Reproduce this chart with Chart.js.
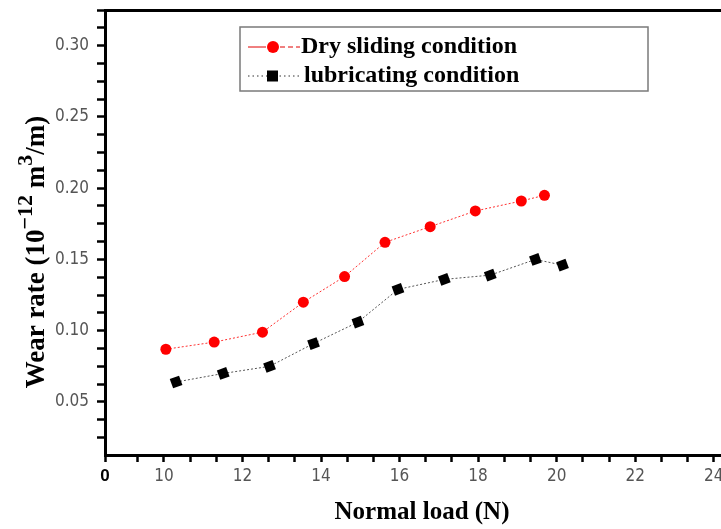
<!DOCTYPE html>
<html>
<head>
<meta charset="utf-8">
<script src="https://cdn.jsdelivr.net/npm/chart.js@4/dist/chart.umd.min.js"></script>
<style>
  html, body { margin: 0; padding: 0; background: #fff; overflow: hidden; }
  #wrap { width: 760px; height: 529px; }
</style>
</head>
<body>
<div id="wrap"><canvas id="wearChart" width="760" height="529"></canvas></div>
<script>
// values
const loadDry = [10.05, 11.28, 12.51, 13.55, 14.60, 15.63, 16.78, 17.93, 19.10, 19.69];
const wearDry = [0.087, 0.092, 0.099, 0.120, 0.138, 0.162, 0.173, 0.184, 0.191, 0.195];

const loadLub = [10.31, 11.51, 12.69, 13.81, 14.94, 15.96, 17.14, 18.31, 19.46, 20.15];
const wearLub = [0.064, 0.070, 0.075, 0.091, 0.106, 0.129, 0.136, 0.139, 0.150, 0.146];

const seriesNames = ["Dry sliding condition", "lubricating condition"];

const xLabels = [10, 12, 14, 16, 18, 20, 22, 24];
const yLabels = [0.05, 0.10, 0.15, 0.20, 0.25, 0.30];

const X_MIN = 8.5;
const X_MAX = 25.0;
const Y_MIN = 0.0128;
const Y_MAX = 0.325;

const TICK_FONT = "'Liberation Sans Narrow', 'DejaVu Sans Condensed', sans-serif";
const SERIF = "'Liberation Serif', 'DejaVu Serif', serif";


function toPoints(xs, ys) {
  return xs.map((x, i) => ({ x: x, y: ys[i] }));
}


function xTickValues() {
  const out = [X_MIN];
  for (let k = 0; ; k++) {
    const v = 28 / 3 + k * 2 / 3;
    if (v > X_MAX - 0.3) break;
    out.push(v);
  }
  return out.map((v) => ({ value: v }));
}


function yTickValues() {
  const out = [];
  for (let k = 2; k * 0.0125 <= Y_MAX; k++) {
    out.push({ value: k * 0.0125 });
  }
  return out;
}


function isNear(v, list) {
  return list.find((t) => Math.abs(t - v) < 1e-6);
}


// legend box drawn inside the plot, top centre
const legendBox = {
  id: "legendBox",
  afterDraw(chart) {
    const ctx = chart.ctx;
    ctx.save();

    ctx.strokeStyle = "#7a7a7a";
    ctx.lineWidth = 1.5;
    ctx.strokeRect(240, 27, 408, 64);

    const sets = chart.data.datasets;

    // dry sliding
    let y = 47;
    ctx.strokeStyle = "#e00000";
    ctx.lineWidth = 1;
    ctx.beginPath();
    ctx.moveTo(248, y);
    ctx.lineTo(266, y);
    ctx.stroke();
    ctx.setLineDash([5, 3]);
    ctx.beginPath();
    ctx.moveTo(280, y);
    ctx.lineTo(300, y);
    ctx.stroke();
    ctx.setLineDash([]);
    ctx.fillStyle = "#ff0000";
    ctx.beginPath();
    ctx.arc(273, y, 6, 0, Math.PI * 2);
    ctx.fill();

    ctx.fillStyle = "#000";
    ctx.font = "bold 24px " + SERIF;
    ctx.textBaseline = "middle";
    ctx.textAlign = "left";
    ctx.fillText(sets[0].label, 301, y);

    // lubricating
    y = 76;
    ctx.strokeStyle = "#333";
    ctx.setLineDash([1.5, 3]);
    ctx.beginPath();
    ctx.moveTo(248, y);
    ctx.lineTo(300, y);
    ctx.stroke();
    ctx.setLineDash([]);
    ctx.fillStyle = "#000";
    ctx.fillRect(267, y - 5.5, 11, 11);
    ctx.fillText(sets[1].label, 304, y);

    ctx.restore();
  }
};


// axis titles, y one with superscripts
const axisTitles = {
  id: "axisTitles",
  afterDraw(chart) {
    const ctx = chart.ctx;
    ctx.save();
    ctx.fillStyle = "#000";

    ctx.font = "bold 25px " + SERIF;
    ctx.textAlign = "center";
    ctx.textBaseline = "middle";
    ctx.fillText("Normal load (N)", 422, 513);

    const parts = [
      { t: "Wear rate (10", sup: false },
      { t: "\u221212", sup: true },
      { t: " m", sup: false },
      { t: "3", sup: true },
      { t: "/m)", sup: false },
    ];
    const mainFont = "bold 27px " + SERIF;
    const supFont = "bold 22px " + SERIF;

    let total = 0;
    parts.forEach((p) => {
      ctx.font = p.sup ? supFont : mainFont;
      p.w = ctx.measureText(p.t).width;
      total += p.w;
    });

    ctx.translate(44, 252);
    ctx.rotate(-Math.PI / 2);
    ctx.textAlign = "left";
    ctx.textBaseline = "alphabetic";
    let x = -total / 2;
    parts.forEach((p) => {
      ctx.font = p.sup ? supFont : mainFont;
      ctx.fillText(p.t, x, p.sup ? -12 : 0);
      x += p.w;
    });

    ctx.restore();
  }
};


new Chart(document.getElementById("wearChart"), {
  type: "line",
  data: {
    datasets: [
      {
        label: seriesNames[0],
        data: toPoints(loadDry, wearDry),
        borderColor: "#ff3030",
        borderWidth: 1,
        borderDash: [2, 2],
        pointStyle: "circle",
        pointRadius: 5.5,
        pointBackgroundColor: "#ff0000",
        pointBorderColor: "#ff0000",
        pointBorderWidth: 0,
        tension: 0
      },
      {
        label: seriesNames[1],
        data: toPoints(loadLub, wearLub),
        borderColor: "#555",
        borderWidth: 1,
        borderDash: [2, 2],
        pointStyle: "rect",
        pointRadius: 7,
        pointRotation: -20,
        pointBackgroundColor: "#000",
        pointBorderColor: "#000",
        pointBorderWidth: 0,
        tension: 0
      }
    ]
  },
  options: {
    responsive: false,
    animation: false,
    devicePixelRatio: 1,
    layout: { padding: { top: 10, left: 0, right: 0, bottom: 0 } },
    plugins: {
      legend: { display: false },
      tooltip: { enabled: false }
    },
    scales: {
      x: {
        type: "linear",
        position: "bottom",
        min: X_MIN,
        max: X_MAX,
        afterBuildTicks: (scale) => { scale.ticks = xTickValues(); },
        afterFit: (scale) => {
          scale.height = 74;
          scale.paddingLeft = 0;
          scale.paddingRight = 0;
        },
        grid: {
          drawOnChartArea: false,
          drawTicks: true,
          tickLength: 7,
          tickColor: "#000",
          tickWidth: 2.5
        },
        border: { display: true, color: "#000", width: 3 },
        ticks: {
          autoSkip: false,
          maxRotation: 0,
          padding: 4,
          callback: (v) => {
            if (Math.abs(v - X_MIN) < 1e-6) return "0";
            const hit = isNear(v, xLabels);
            return hit !== undefined ? String(hit) : "";
          },
          color: (c) => (c.tick && Math.abs(c.tick.value - X_MIN) < 1e-6 ? "#000" : "#555"),
          font: (c) => (c.tick && Math.abs(c.tick.value - X_MIN) < 1e-6
            ? { family: "'Liberation Sans', Arial, sans-serif", size: 17, weight: "bold" }
            : { family: TICK_FONT, size: 17 })
        }
      },
      xTop: {
        type: "linear",
        position: "top",
        min: X_MIN,
        max: X_MAX,
        afterFit: (scale) => {
          scale.height = 0;
          scale.paddingLeft = 0;
          scale.paddingRight = 0;
        },
        grid: { drawOnChartArea: false, drawTicks: false },
        border: { display: true, color: "#000", width: 3 },
        ticks: { display: false }
      },
      y: {
        type: "linear",
        min: Y_MIN,
        max: Y_MAX,
        afterBuildTicks: (scale) => { scale.ticks = yTickValues(); },
        afterFit: (scale) => {
          scale.width = 105;
          scale.paddingTop = 0;
          scale.paddingBottom = 0;
        },
        grid: {
          drawOnChartArea: false,
          drawTicks: true,
          tickLength: 8,
          tickColor: "#000",
          tickWidth: 2.5
        },
        border: { display: true, color: "#000", width: 3 },
        ticks: {
          autoSkip: false,
          padding: 8,
          color: "#555",
          font: { family: TICK_FONT, size: 17 },
          callback: (v) => {
            const hit = isNear(v, yLabels);
            return hit !== undefined ? hit.toFixed(2) : "";
          }
        }
      }
    }
  },
  plugins: [legendBox, axisTitles]
});
</script>
</body>
</html>
